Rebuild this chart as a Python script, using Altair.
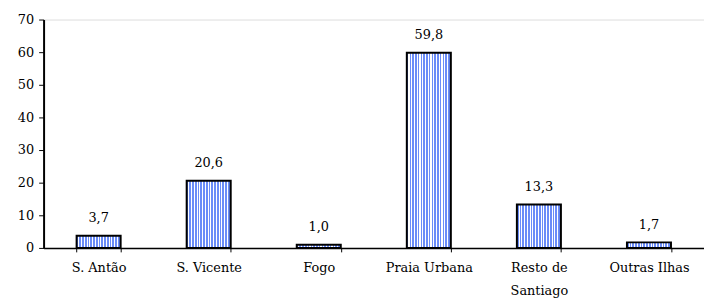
import altair as alt
import pandas as pd

categories = ["S. Antão", "S. Vicente", "Fogo", "Praia Urbana", "Resto de Santiago", "Outras Ilhas"]
values = [3.7, 20.6, 1.0, 59.8, 13.3, 1.7]
labels = ["3,7", "20,6", "1,0", "59,8", "13,3", "1,7"]
y_ticks = [0, 10, 20, 30, 40, 50, 60, 70]

df = pd.DataFrame({"cat": categories, "val": values, "lab": labels})

# striped fill via a hard-stop linear gradient
blue = "#6a8cf8"
stops = []
n = 16
for i in range(n):
    a = i / n
    b = (i + 0.6) / n
    c = (i + 1) / n
    stops += [
        {"offset": a, "color": blue},
        {"offset": b, "color": blue},
        {"offset": b, "color": "#ffffff"},
        {"offset": c, "color": "#ffffff"},
    ]
grad = {"gradient": "linear", "x1": 0, "x2": 1, "y1": 0, "y2": 0, "stops": stops}

font = "DejaVu Serif"
fs = 13

x = alt.X(
    "cat:N",
    sort=categories,
    title=None,
    scale=alt.Scale(paddingInner=0.6, paddingOuter=0.3),
    axis=alt.Axis(
        labelAngle=0,
        labelFont=font,
        labelFontSize=fs,
        labelColor="black",
        labelPadding=10,
        labelLineHeight=23,
        labelLimit=200,
        labelExpr="datum.value == 'Resto de Santiago' ? ['Resto de', 'Santiago'] : datum.value",
        tickBand="extent",
        tickColor="black",
        tickSize=4,
        domainColor="black",
        domainWidth=1.5,
        grid=False,
    ),
)

y = alt.Y(
    "val:Q",
    title=None,
    scale=alt.Scale(domain=[0, 70], nice=False),
    axis=alt.Axis(
        values=y_ticks,
        tickCount=8,
        labelOverlap=False,
        labelFlush=False,
        labelFont=font,
        labelFontSize=fs,
        labelColor="black",
        labelPadding=5,
        tickColor="black",
        tickSize=5,
        domainColor="black",
        domainWidth=2,
        grid=False,
    ),
)

base = alt.Chart(df).encode(x=x, y=y)

bars = base.mark_bar(fill=grad, stroke="black", strokeWidth=2)

text = base.mark_text(
    font=font, fontSize=fs, color="black", baseline="bottom", dy=-11
).encode(text="lab:N")

chart = (bars + text).properties(
    width=668,
    height=231,
    autosize=alt.AutoSizeParams(type="none"),
    padding={"left": 36, "top": 10, "right": 0, "bottom": 50},
).configure_view(strokeWidth=0).configure(background="white")

chart.save("out.html", embed_options={"renderer": "svg", "actions": False})
